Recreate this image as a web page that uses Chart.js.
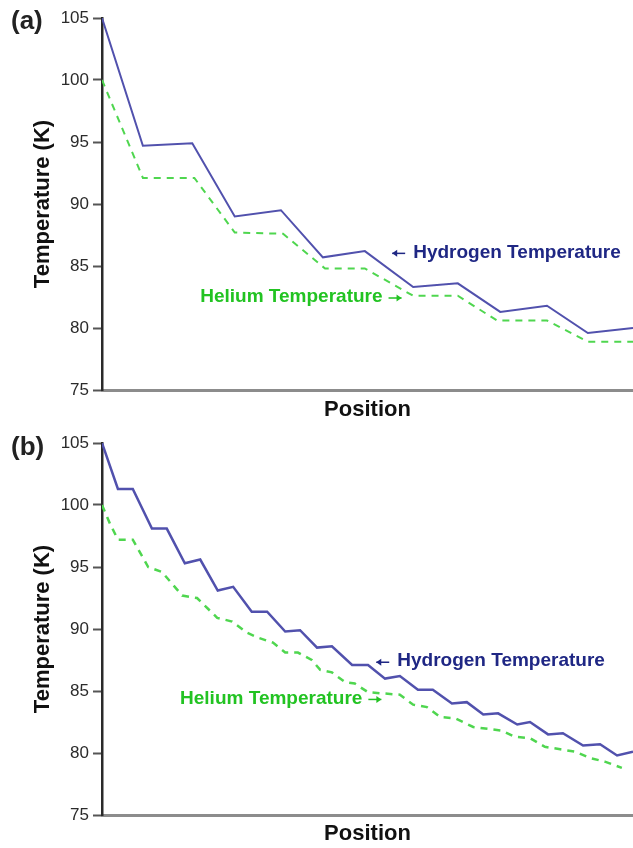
<!DOCTYPE html>
<html>
<head>
<meta charset="utf-8">
<script src="https://cdn.jsdelivr.net/npm/chart.js@4"></script>
<style>
  body { margin: 0; background: #fff; }
  .panel { position: absolute; left: 0; width: 633px; height: 424px; }
  #panelA { top: 0; }
  #panelB { top: 424px; }
</style>
</head>
<body>
<div class="panel" id="panelA"><canvas id="chartA" width="633" height="424"></canvas></div>
<div class="panel" id="panelB"><canvas id="chartB" width="633" height="424"></canvas></div>
<script>
// y axis ticks (K)
const yTicks = [75, 80, 85, 90, 95, 100, 105];

// panel (a): coarse stages
const posA_h = [0, 7.7, 17.0, 25.0, 33.7, 41.6, 49.5, 58.6, 67.0, 75.0, 83.8, 91.5, 100];
const tempA_h = [105, 94.7, 94.9, 89.0, 89.5, 85.7, 86.2, 83.3, 83.6, 81.3, 81.8, 79.6, 80.0];
const posA_he = [0, 7.7, 17.4, 25.0, 34.1, 42.0, 49.5, 58.6, 67.0, 74.4, 83.8, 91.5, 100];
const tempA_he = [100, 92.1, 92.1, 87.7, 87.6, 84.8, 84.8, 82.6, 82.6, 80.6, 80.6, 78.9, 78.9];

// panel (b): fine stages
const posB_h = [0, 3.0, 5.8, 9.4, 12.2, 15.6, 18.5, 21.8, 24.7, 28.2, 31.1, 34.5, 37.3, 40.5, 43.3, 47.1, 50.1,
  53.3, 56.1, 59.5, 62.3, 65.9, 68.7, 71.8, 74.6, 78.2, 80.6, 84.0, 86.8, 90.6, 93.8, 97.0, 100];
const tempB_h = [105, 101.3, 101.3, 98.1, 98.1, 95.3, 95.6, 93.1, 93.4, 91.4, 91.4, 89.8, 89.9, 88.5, 88.6, 87.1, 87.1,
  86.0, 86.2, 85.1, 85.1, 84.0, 84.1, 83.1, 83.2, 82.3, 82.5, 81.5, 81.6, 80.6, 80.7, 79.8, 80.1];
const posB_he = [0, 1.5, 3.0, 5.8, 8.7, 11.3, 15.1, 17.9, 21.7, 24.5, 27.3, 29.4, 32.2, 34.5, 36.9, 39.5, 41.1, 43.3,
  45.8, 47.6, 50.1, 56.1, 58.6, 61.2, 63.7, 66.5, 69.9, 75.3, 77.8, 80.6, 83.4, 86.3, 89.1, 91.9, 94.7, 97.9];
const tempB_he = [100, 98.5, 97.2, 97.2, 95.0, 94.6, 92.7, 92.5, 90.9, 90.6, 89.7, 89.3, 88.9, 88.1, 88.1, 87.5, 86.7, 86.5,
  85.7, 85.6, 84.9, 84.7, 83.9, 83.7, 82.9, 82.8, 82.1, 81.8, 81.3, 81.2, 80.5, 80.3, 80.1, 79.6, 79.3, 78.8];

const H_LINE = "#5151ad";
const HE_LINE = "#4fd64f";
const H_TEXT = "#1f2784";
const HE_TEXT = "#22c322";
const FONT = '"Liberation Sans", Arial, sans-serif';

function pts(xs, ys) {
  return xs.map((x, i) => ({ x: x, y: ys[i] }));
}

// panel letter + inline series labels with little arrows
const textLabels = {
  id: "textLabels",
  afterDatasetsDraw(chart, args, opts) {
    const { ctx } = chart;
    const { x, y } = chart.scales;
    ctx.save();
    ctx.font = "bold 26px " + FONT;
    ctx.fillStyle = "#222";
    ctx.textBaseline = "middle";
    ctx.textAlign = "left";
    ctx.fillText(opts.panel, 11, opts.panelY);

    ctx.font = "bold 19px " + FONT;
    for (const lab of opts.labels) {
      const px = x.getPixelForValue(lab.x);
      const py = y.getPixelForValue(lab.y);
      ctx.fillStyle = lab.color;
      ctx.fillText(lab.text, px, py);
      const w = ctx.measureText(lab.text).width;
      let tail, head;
      if (lab.arrow === "left") {
        tail = px - 8;
        head = px - 21;
      } else {
        tail = px + w + 6;
        head = px + w + 19;
      }
      const ay = py + 1;
      const dir = head < tail ? 1 : -1;
      ctx.strokeStyle = lab.color;
      ctx.lineWidth = 1.5;
      ctx.beginPath();
      ctx.moveTo(tail, ay);
      ctx.lineTo(head, ay);
      ctx.stroke();
      ctx.beginPath();
      ctx.moveTo(head, ay);
      ctx.lineTo(head + dir * 5, ay - 3.5);
      ctx.lineTo(head + dir * 5, ay + 3.5);
      ctx.closePath();
      ctx.fill();
    }
    ctx.restore();
  },
};

function makeChart(id, hPos, hTemp, hePos, heTemp, panelOpts, padTop, xHeight, lw) {
  new Chart(document.getElementById(id), {
    type: "line",
    data: {
      datasets: [
        {
          label: "Hydrogen Temperature",
          data: pts(hPos, hTemp),
          borderColor: H_LINE,
          borderWidth: lw,
          pointRadius: 0,
          tension: 0,
        },
        {
          label: "Helium Temperature",
          data: pts(hePos, heTemp),
          borderColor: HE_LINE,
          borderWidth: lw,
          borderDash: [7, 6],
          pointRadius: 0,
          tension: 0,
        },
      ],
    },
    options: {
      responsive: false,
      animation: false,
      layout: { padding: { top: padTop, right: 0, bottom: 0, left: 0 } },
      plugins: {
        legend: { display: false },
        tooltip: { enabled: false },
        textLabels: panelOpts,
      },
      scales: {
        x: {
          type: "linear",
          min: 0,
          max: 100,
          grid: { display: false },
          border: { color: "#8c8c8c", width: 3 },
          ticks: { display: false },
          title: {
            display: true,
            text: "Position",
            color: "#111",
            font: { family: FONT, size: 22, weight: "bold" },
            padding: { top: 0, bottom: 1 },
          },
          afterFit: (s) => { s.height = xHeight; },
        },
        y: {
          min: 75,
          max: 105,
          afterBuildTicks: (s) => { s.ticks = yTicks.map((v) => ({ value: v })); },
          grid: {
            display: true,
            drawOnChartArea: false,
            drawTicks: true,
            tickLength: 9,
            tickWidth: 2,
            tickColor: "#555",
          },
          border: { color: "#2a2a2a", width: 2.5 },
          ticks: {
            color: "#2b2b2b",
            padding: 4,
            font: { family: FONT, size: 17 },
          },
          title: {
            display: true,
            text: "Temperature (K)",
            color: "#111",
            font: { family: FONT, size: 22, weight: "bold" },
            padding: { top: 30, bottom: 0 },
          },
          afterFit: (s) => { s.width = 102; },
        },
      },
    },
    plugins: [textLabels],
  });
}

makeChart("chartA", posA_h, tempA_h, posA_he, tempA_he, {
  panel: "(a)",
  panelY: 22,
  labels: [
    { text: "Hydrogen Temperature", x: 58.6, y: 86.1, color: H_TEXT, arrow: "left" },
    { text: "Helium Temperature", x: 18.5, y: 82.5, color: HE_TEXT, arrow: "right" },
  ],
}, 18, 34, 2);

makeChart("chartB", posB_h, tempB_h, posB_he, tempB_he, {
  panel: "(b)",
  panelY: 24,
  labels: [
    { text: "Hydrogen Temperature", x: 55.6, y: 87.4, color: H_TEXT, arrow: "left" },
    { text: "Helium Temperature", x: 14.7, y: 84.4, color: HE_TEXT, arrow: "right" },
  ],
}, 19, 33, 2.5);
</script>
</body>
</html>
